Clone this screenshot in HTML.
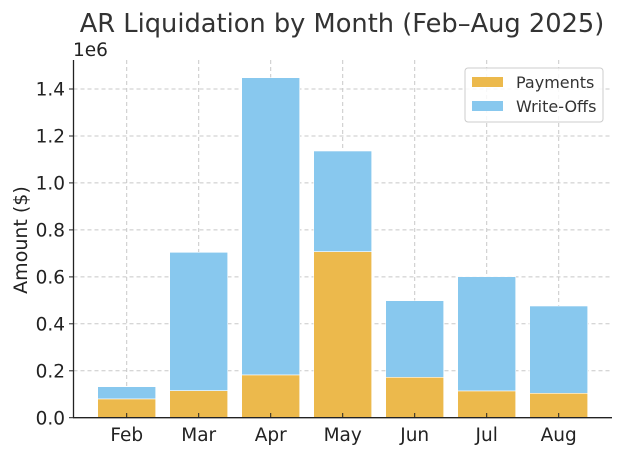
<!DOCTYPE html>
<html><head><meta charset="utf-8"><style>body{margin:0;background:#fff}svg{display:block}</style></head>
<body>
<svg width="623" height="454" xmlns="http://www.w3.org/2000/svg" font-family="DejaVu Sans, Liberation Sans, sans-serif" fill="#333">
<text x="342" y="32" font-size="25.7" text-anchor="middle" fill="#333">AR Liquidation by Month (Feb–Aug 2025)</text>
<g stroke="#c8c8c8" stroke-dasharray="4,3" stroke-width="1">
<line x1="73.5" x2="612" y1="370.8" y2="370.8"/><line x1="73.5" x2="612" y1="323.8" y2="323.8"/>
<line x1="73.5" x2="612" y1="276.9" y2="276.9"/><line x1="73.5" x2="612" y1="229.9" y2="229.9"/>
<line x1="73.5" x2="612" y1="182.9" y2="182.9"/><line x1="73.5" x2="612" y1="136" y2="136"/>
<line x1="73.5" x2="612" y1="89" y2="89"/>
<line x1="126.7" x2="126.7" y1="60" y2="417.7"/><line x1="198.7" x2="198.7" y1="60" y2="417.7"/>
<line x1="270.7" x2="270.7" y1="60" y2="417.7"/><line x1="342.7" x2="342.7" y1="60" y2="417.7"/>
<line x1="414.7" x2="414.7" y1="60" y2="417.7"/><line x1="486.7" x2="486.7" y1="60" y2="417.7"/>
<line x1="558.7" x2="558.7" y1="60" y2="417.7"/>
</g>
<g stroke="#fff" stroke-width="0.6">
<rect x="97.7" y="386.7" width="58" height="12.3" fill="#88c8ee"/><rect x="97.7" y="399" width="58" height="18.7" fill="#ecb94c"/>
<rect x="169.7" y="252.3" width="58" height="138.4" fill="#88c8ee"/><rect x="169.7" y="390.7" width="58" height="27" fill="#ecb94c"/>
<rect x="241.7" y="77.7" width="58" height="297.3" fill="#88c8ee"/><rect x="241.7" y="375" width="58" height="42.7" fill="#ecb94c"/>
<rect x="313.7" y="151" width="58" height="100.7" fill="#88c8ee"/><rect x="313.7" y="251.7" width="58" height="166" fill="#ecb94c"/>
<rect x="385.7" y="300.7" width="58" height="76.6" fill="#88c8ee"/><rect x="385.7" y="377.3" width="58" height="40.4" fill="#ecb94c"/>
<rect x="457.7" y="276.7" width="58" height="114.3" fill="#88c8ee"/><rect x="457.7" y="391" width="58" height="26.7" fill="#ecb94c"/>
<rect x="529.7" y="306" width="58" height="87.3" fill="#88c8ee"/><rect x="529.7" y="393.3" width="58" height="24.4" fill="#ecb94c"/>
</g>
<g stroke="#222" stroke-width="1.3">
<line x1="73.5" x2="73.5" y1="60" y2="418"/><line x1="73" x2="612" y1="417.7" y2="417.7"/>
</g>
<g stroke="#222" stroke-width="1">
<line x1="69" x2="73.5" y1="417.7" y2="417.7"/><line x1="69" x2="73.5" y1="370.8" y2="370.8"/><line x1="69" x2="73.5" y1="323.8" y2="323.8"/>
<line x1="69" x2="73.5" y1="276.9" y2="276.9"/><line x1="69" x2="73.5" y1="229.9" y2="229.9"/><line x1="69" x2="73.5" y1="182.9" y2="182.9"/>
<line x1="69" x2="73.5" y1="136" y2="136"/><line x1="69" x2="73.5" y1="89" y2="89"/>
<line x1="126.7" x2="126.7" y1="417.7" y2="413"/><line x1="198.7" x2="198.7" y1="417.7" y2="413"/><line x1="270.7" x2="270.7" y1="417.7" y2="413"/>
<line x1="342.7" x2="342.7" y1="417.7" y2="413"/><line x1="414.7" x2="414.7" y1="417.7" y2="413"/><line x1="486.7" x2="486.7" y1="417.7" y2="413"/>
<line x1="558.7" x2="558.7" y1="417.7" y2="413"/>
</g>
<g font-size="18.5" text-anchor="end" fill="#222">
<text x="65" y="424.5">0.0</text><text x="65" y="377.5">0.2</text><text x="65" y="330.5">0.4</text><text x="65" y="283.5">0.6</text>
<text x="65" y="236.5">0.8</text><text x="65" y="189.5">1.0</text><text x="65" y="142.5">1.2</text><text x="65" y="95.5">1.4</text>
</g>
<g font-size="18.5" text-anchor="middle" fill="#222">
<text x="126.7" y="441">Feb</text><text x="198.7" y="441">Mar</text><text x="270.7" y="441">Apr</text><text x="342.7" y="441">May</text>
<text x="414.7" y="441">Jun</text><text x="486.7" y="441">Jul</text><text x="558.7" y="441">Aug</text>
</g>
<text x="73" y="56" font-size="18.5" fill="#222">1e6</text>
<text transform="translate(27,240) rotate(-90)" font-size="19" text-anchor="middle" fill="#222">Amount ($)</text>
<rect x="465" y="68" width="138" height="54" rx="3" fill="#fff" fill-opacity="0.85" stroke="#ccc"/>
<rect x="472" y="77" width="31" height="10" fill="#ecb94c"/>
<rect x="472" y="101" width="31" height="10" fill="#88c8ee"/>
<text x="516" y="88" font-size="16" fill="#333">Payments</text>
<text x="516" y="112" font-size="16" fill="#333">Write-Offs</text>
</svg>
</body></html>
